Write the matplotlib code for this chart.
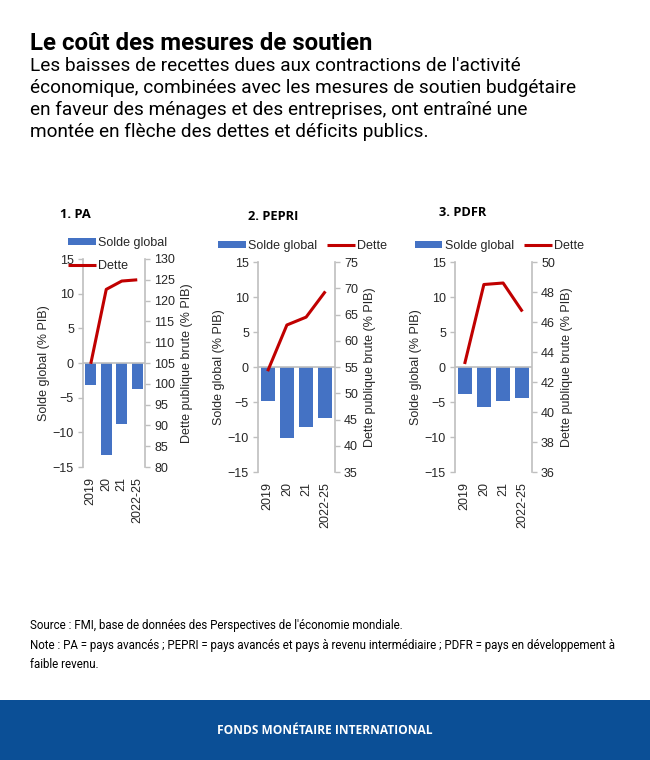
"""Le coût des mesures de soutien : solde global et dette publique brute
(PA, PEPRI, PDFR), reproduction du graphique FMI."""

import matplotlib
matplotlib.use("Agg")
import matplotlib.pyplot as plt
from matplotlib.patches import Rectangle

# --- Données ------------------------------------------------------------------
annees = ["2019", "20", "21", "2022-25"]

solde_pa = [-3.2, -13.3, -8.8, -3.8]
dette_pa = [104.8, 122.7, 124.7, 125.0]

solde_pepri = [-4.8, -10.2, -8.6, -7.3]
dette_pepri = [54.2, 63.0, 64.5, 69.4]

solde_pdfr = [-3.9, -5.7, -4.9, -4.4]
dette_pdfr = [43.2, 48.5, 48.6, 46.7]

titres = ["1. PA", "2. PEPRI", "3. PDFR"]
limites_dette = [(80, 130, 5), (35, 75, 5), (36, 50, 2)]

# --- Styles -------------------------------------------------------------------
BLEU = "#4472C4"
ROUGE = "#C00000"
GRIS = "#BFBFBF"
TEXTE = "#262626"
W, H = 650, 760

plt.rcParams["font.family"] = ["Liberation Sans", "DejaVu Sans"]


def boite(g, h, d, b):
    return [g / W, 1 - b / H, (d - g) / W, (b - h) / H]


fig = plt.figure(figsize=(W / 100, H / 100), dpi=100)
fig.patch.set_facecolor("white")

# --- En-tête ------------------------------------------------------------------
fig.text(30 / W, 1 - 43 / H, "Le coût des mesures de soutien",
         family="Roboto", fontweight="bold", fontsize=17.3, color="black",
         va="center", ha="left")
sous_titre = [
    "Les baisses de recettes dues aux contractions de l'activité",
    "économique, combinées avec les mesures de soutien budgétaire",
    "en faveur des ménages et des entreprises, ont entraîné une",
    "montée en flèche des dettes et déficits publics.",
]
for i, ligne in enumerate(sous_titre):
    fig.text(30 / W, 1 - (66 + 22 * i) / H, ligne, family="Roboto",
             fontsize=13.7, color="black", va="center", ha="left")

# --- Panneaux -----------------------------------------------------------------
panneaux = [
    dict(box=(83, 259, 145, 467), solde=solde_pa, dette=dette_pa,
         titre=(60, 215), leg=(68, 237), ncol=1, esp=0.85),
    dict(box=(258, 262, 335, 472), solde=solde_pepri, dette=dette_pepri,
         titre=(248, 216), leg=(218, 240), ncol=2, esp=0.55),
    dict(box=(455, 262, 532, 472), solde=solde_pdfr, dette=dette_pdfr,
         titre=(439, 213), leg=(415, 240), ncol=2, esp=0.55),
]

for p, titre, (dmin, dmax, dpas) in zip(panneaux, titres, limites_dette):
    ax = fig.add_axes(boite(*p["box"]))
    ax2 = ax.twinx()
    x = range(len(annees))

    barres = ax.bar(x, p["solde"], width=0.74, color=BLEU, label="Solde global",
                    zorder=2)
    ax.axhline(0, color=GRIS, linewidth=1.2, zorder=3)
    ligne, = ax2.plot(x, p["dette"], color=ROUGE, linewidth=2.2, label="Dette",
                      solid_capstyle="butt")

    ax.set_xlim(-0.5, 3.5)
    ax.set_ylim(-15, 15)
    ax.set_yticks(range(-15, 16, 5))
    ax2.set_ylim(dmin, dmax)
    ax2.set_yticks(range(dmin, dmax + 1, dpas))

    ax.set_xticks(list(x))
    ax.set_xticklabels(annees, rotation=90)
    ax.tick_params(axis="x", length=0, pad=7, labelsize=9, labelcolor=TEXTE)
    ax.tick_params(axis="y", direction="out", length=3.5, width=1, color=GRIS,
                   labelsize=9, labelcolor=TEXTE, pad=3)
    ax2.tick_params(axis="y", direction="out", length=3.5, width=1, color=GRIS,
                    labelsize=9, labelcolor=TEXTE, pad=3)

    for a in (ax, ax2):
        a.spines["top"].set_visible(False)
        a.spines["bottom"].set_visible(False)
        a.patch.set_visible(False)
    ax.spines["right"].set_visible(False)
    ax2.spines["left"].set_visible(False)
    ax.spines["left"].set_color(GRIS)
    ax2.spines["right"].set_color(GRIS)
    ax.spines["left"].set_linewidth(1.2)
    ax2.spines["right"].set_linewidth(1.2)

    ax.set_ylabel("Solde global (% PIB)", fontsize=9, color=TEXTE, labelpad=2)
    ax2.set_ylabel("Dette publique brute (% PIB)", fontsize=9, color=TEXTE,
                   labelpad=4)

    tx, ty = p["titre"]
    fig.text(tx / W, 1 - ty / H, titre, family="Open Sans", fontweight="bold",
             fontsize=9.3, color="black", va="center", ha="left")

    lx, ly = p["leg"]
    fig.legend([barres, ligne], ["Solde global", "Dette"], ncol=p["ncol"],
               loc="upper left", bbox_to_anchor=(lx / W, 1 - ly / H),
               frameon=False, fontsize=9, handlelength=2.2, handleheight=0.55,
               handletextpad=0.2, columnspacing=0.8, labelspacing=p["esp"],
               borderpad=0, borderaxespad=0, labelcolor=TEXTE)

# --- Pied de page -------------------------------------------------------------
notes = [
    "Source : FMI, base de données des Perspectives de l'économie mondiale.",
    "Note : PA = pays avancés ; PEPRI = pays avancés et pays à revenu "
    "intermédiaire ; PDFR = pays en développement à",
    "faible revenu.",
]
for i, n in enumerate(notes):
    fig.text(30 / W, 1 - (626 + 19 * i) / H, n,
             family=["Liberation Sans Narrow", "Roboto"], fontsize=8.3,
             color="black", va="center", ha="left")

fig.add_artist(Rectangle((0, 0), 1, 60 / H, transform=fig.transFigure,
                         facecolor="#0B4F96", edgecolor="none"))
fig.text(0.5 * (218 + 432) / W, 1 - 730 / H, "FONDS MONÉTAIRE INTERNATIONAL",
         family="Open Sans", fontweight="bold", fontsize=8.6, color="white",
         va="center", ha="center")

fig.savefig("out.png", dpi=100)
